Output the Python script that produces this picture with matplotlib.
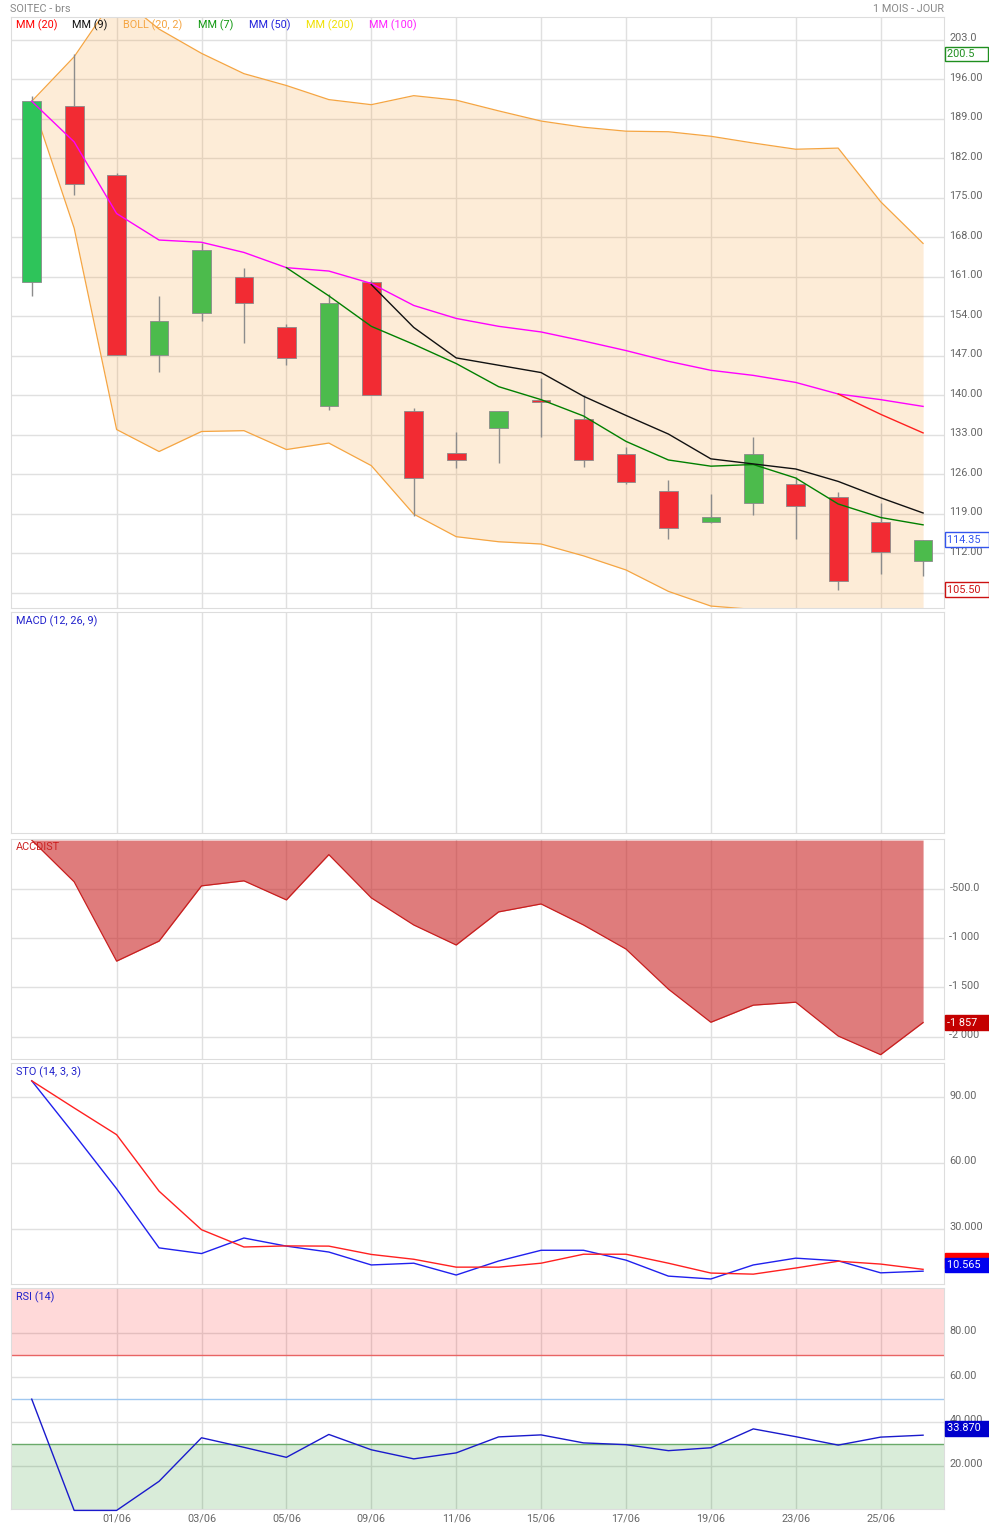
import numpy as np
import matplotlib
matplotlib.use("Agg")
import matplotlib.pyplot as plt
import matplotlib.transforms as mtransforms

plt.rcParams['font.family'] = ['Roboto', 'DejaVu Sans']

# ---- data ----
dates = ["28/05", "29/05", "01/06", "02/06", "03/06", "04/06", "05/06", "08/06",
         "09/06", "10/06", "11/06", "12/06", "15/06", "16/06", "17/06", "18/06",
         "19/06", "22/06", "23/06", "24/06", "25/06", "26/06"]

opens = [160.0, 191.2, 179.0, 147.2, 154.5, 161.0, 152.0, 138.1, 160.0, 137.2, 129.8,
         134.1, 139.1, 135.8, 129.6, 123.0, 117.5, 120.8, 124.3, 121.95, 117.5, 110.5]
highs = [193.0, 200.5, 179.3, 157.5, 166.9, 162.5, 152.6, 158.0, 160.4, 137.8, 133.4,
         137.2, 143.0, 140.1, 130.8, 125.0, 122.4, 132.5, 125.4, 122.9, 120.9, 114.35]
lows = [157.6, 175.5, 147.2, 144.1, 153.1, 149.2, 145.3, 137.4, 140.1, 118.5, 127.0,
        127.9, 132.5, 127.2, 124.2, 114.4, 117.3, 118.7, 114.4, 105.5, 108.2, 108.0]
closes = [192.1, 177.5, 147.2, 153.1, 165.7, 156.4, 146.6, 156.4, 140.1, 125.3, 128.5,
          137.2, 138.7, 128.5, 124.6, 116.45, 118.45, 129.5, 120.3, 107.1, 112.1, 114.35]

boll_upper = [192.1, 200.0, 211.0, 204.9, 200.6, 197.0, 194.9, 192.4, 191.5, 193.1, 192.3,
              190.4, 188.6, 187.5, 186.8, 186.7, 185.9, 184.7, 183.6, 183.8, 174.3, 166.9]
boll_lower = [192.1, 169.6, 133.9, 130.0, 133.55, 133.7, 130.35, 131.5, 127.5, 118.9, 114.9,
              114.0, 113.6, 111.5, 109.0, 105.2, 102.6, 102.0, 101.2, 99.5, 97.5, 96.5]

nan = np.nan
mm7 = [nan, nan, nan, nan, nan, nan, 162.6, 157.6, 152.2, 149.0, 145.6, 141.5, 139.2,
       136.3, 131.8, 128.5, 127.4, 127.7, 125.3, 120.7, 118.3, 117.0]
mm9 = [nan, nan, nan, nan, nan, nan, nan, nan, 159.6, 152.0, 146.6, 145.3, 144.0, 139.8,
       136.4, 133.1, 128.7, 127.8, 126.9, 124.7, 121.8, 119.1]
mm20 = [nan] * 19 + [140.2, 136.6, 133.3]
mm100 = [192.1, 184.9, 172.2, 167.5, 167.1, 165.3, 162.6, 162.0, 159.8, 155.9, 153.6,
         152.2, 151.2, 149.6, 147.9, 146.0, 144.4, 143.5, 142.25, 140.2, 139.2, 138.0]

accdist = [0, -425, -1232, -1028, -466, -415, -609, -148, -588, -864, -1068, -731, -650,
           -864, -1109, -1517, -1854, -1680, -1650, -1994, -2184, -1857]

sto_k = [97.5, 73.1, 48.2, 21.2, 18.6, 25.7, 22.0, 19.3, 13.4, 14.2, 8.8, 15.2, 20.1,
         20.1, 15.6, 8.3, 7.0, 13.4, 16.5, 15.3, 9.8, 10.565]
sto_d = [97.5, 85.1, 72.9, 47.1, 29.5, 21.6, 22.1, 22.0, 18.2, 16.0, 12.4, 12.4, 14.2,
         18.3, 18.3, 14.2, 9.7, 9.2, 12.0, 15.1, 13.8, 11.4]

rsi = [50.1, 0.0, 0.0, 13.1, 32.7, 28.4, 23.9, 34.2, 27.3, 23.2, 25.9, 33.1, 34.0, 30.4,
       29.6, 26.9, 28.2, 36.7, 33.2, 29.4, 33.0, 33.87]

main_ticks = [105, 112, 119, 126, 133, 140, 147, 154, 161, 168, 175, 182, 189, 196, 203]
main_labels = [""] + ["%.2f" % v for v in main_ticks[1:-1]] + ["203.0"]
acc_ticks = [-2000, -1500, -1000, -500]
acc_labels = ["-2 000", "-1 500", "-1 000", "-500.0"]
sto_ticks = [30, 60, 90]
sto_labels = ["30.000", "60.00", "90.00"]
rsi_ticks = [20, 40, 60, 80]
rsi_labels = ["20.000", "40.000", "60.00", "80.00"]

# ---- figure ----
W, H = 989, 1530
fig = plt.figure(figsize=(W / 100, H / 100), dpi=100)
LEFT, RIGHT = 10.5, 944.3


def panel(top, bottom):
    return fig.add_axes([LEFT / W, 1 - bottom / H, (RIGHT - LEFT) / W, (bottom - top) / H])


ax_main = panel(16.7, 608.3)
ax_macd = panel(612.3, 833.3)
ax_acc = panel(838.7, 1059.3)
ax_sto = panel(1063.3, 1284.0)
ax_rsi = panel(1288.3, 1509.3)
axes = [ax_main, ax_macd, ax_acc, ax_sto, ax_rsi]

x = np.arange(len(dates))
TXT = '#666666'
FS = 7.8

for ax in axes:
    ax.set_xlim(-0.5, len(dates) - 0.5)
    ax.set_xticks(x[2::2])
    ax.grid(True, color='#e0e0e0', lw=1)
    ax.set_axisbelow(True)
    ax.yaxis.tick_right()
    ax.tick_params(length=0, labelsize=FS, labelcolor=TXT, pad=3.6)
    ax.tick_params(axis='x', labelbottom=False)
    for s in ax.spines.values():
        s.set_color('#dddddd')

# main price panel
ax_main.set_ylim(102.2, 207.1)
ax_main.set_yticks(main_ticks)
ax_main.set_yticklabels(main_labels)
ax_main.fill_between(x, boll_lower, boll_upper, color='#f9a13a', alpha=0.2, lw=0, zorder=1)
ax_main.plot(x, boll_upper, color='#f5a542', lw=0.9, zorder=2)
ax_main.plot(x, boll_lower, color='#f5a542', lw=0.9, zorder=2)

o = np.array(opens)
c = np.array(closes)
cols = ['#4cbb4c' if cc >= oo else '#f22b33' for oo, cc in zip(o, c)]
cols[0] = '#2ec45a'
ax_main.vlines(x, lows, highs, color='#8c8c8c', lw=1, zorder=3)
ax_main.bar(x, np.abs(c - o), bottom=np.minimum(o, c), width=0.44, color=cols,
            edgecolor='#8a8a8a', lw=0.6, zorder=4)

ax_main.plot(x, mm100, color='#ff00ff', lw=1, zorder=5)
ax_main.plot(x, mm7, color='#008000', lw=1, zorder=5)
ax_main.plot(x, mm9, color='#111111', lw=1, zorder=5)
ax_main.plot(x, mm20, color='#ff2020', lw=1, zorder=5)

legend = [("MM (20)", '#ff0000', 15.7), ("MM (9)", '#111111', 72.3),
          ("BOLL (20, 2)", '#f5a542', 123.3), ("MM (7)", '#119911', 198.0),
          ("MM (50)", '#2222dd', 249.3), ("MM (200)", '#f0e000', 306.0),
          ("MM (100)", '#ff22ff', 369.3)]
for name, col, px in legend:
    fig.text(px / W, 1 - 25 / H, name, color=col, fontsize=FS, va='center', ha='left')

fig.text(10 / W, 1 - 9 / H, "SOITEC - brs", color='#888888', fontsize=FS, va='center')
fig.text(944 / W, 1 - 9 / H, "1 MOIS - JOUR", color='#888888', fontsize=FS, va='center', ha='right')


def value_box(ax, val, text, fg, bg, ec, dy=0):
    ax.annotate(text, xy=(1, val), xycoords=('axes fraction', 'data'),
                xytext=(2.2, dy), textcoords='offset points', ha='left', va='center',
                fontsize=FS, color=fg, annotation_clip=False, zorder=10,
                bbox=dict(boxstyle='square,pad=0.22', fc=bg, ec=ec, lw=1))


value_box(ax_main, max(highs), "200.5    ", '#1f8f1f', 'white', '#1f8f1f')
value_box(ax_main, closes[-1], "114.35  ", '#3355ee', 'white', '#3355ee')
value_box(ax_main, min(lows), "105.50  ", '#cc1111', 'white', '#cc1111')

# MACD (empty)
ax_macd.set_yticks([])
ax_macd.grid(False, axis='y')
fig.text(15.7 / W, 1 - 621 / H, "MACD (12, 26, 9)", color='#2222cc', fontsize=FS, va='center')

# ACCDIST
ax_acc.set_ylim(-2231, 14)
ax_acc.set_yticks(acc_ticks)
ax_acc.set_yticklabels(acc_labels)
ax_acc.fill_between(x, accdist, 0, color='#c81e1e', alpha=0.58, lw=0, zorder=1)
ax_acc.plot(x, accdist, color='#c81e1e', lw=0.9, zorder=2)
fig.text(15.7 / W, 1 - 847 / H, "ACCDIST", color='#cc2222', fontsize=FS, va='center')
value_box(ax_acc, accdist[-1], "-1 857    ", 'white', '#c40000', '#c40000')

# STO
ax_sto.set_ylim(4.7, 105.5)
ax_sto.set_yticks(sto_ticks)
ax_sto.set_yticklabels(sto_labels)
ax_sto.plot(x, sto_k, color='#2020ee', lw=1, zorder=3)
ax_sto.plot(x, sto_d, color='#ff2020', lw=1, zorder=3)
fig.text(15.7 / W, 1 - 1072 / H, "STO (14, 3, 3)", color='#2222cc', fontsize=FS, va='center')
# red %D label sits mostly hidden behind the blue %K label
value_box(ax_sto, sto_d[-1], "              ", 'white', '#ff0000', '#ff0000', dy=6.5)
value_box(ax_sto, sto_k[-1], "10.565    ", 'white', '#0000ee', '#0000ee', dy=4.5)

# RSI
ax_rsi.set_ylim(0.5, 100)
ax_rsi.set_yticks(rsi_ticks)
ax_rsi.set_yticklabels(rsi_labels)
ax_rsi.axhspan(70, 100, color='#ff0000', alpha=0.15, lw=0, zorder=1)
ax_rsi.axhspan(0, 30, color='#008000', alpha=0.15, lw=0, zorder=1)
ax_rsi.axhline(70, color='#e86464', lw=1, zorder=2)
ax_rsi.axhline(50, color='#a0c8f0', lw=1, zorder=2)
ax_rsi.axhline(30, color='#6aaa6a', lw=1, zorder=2)
ax_rsi.plot(x, rsi, color='#1a1acc', lw=1, zorder=3, clip_on=False)
fig.text(15.7 / W, 1 - 1297 / H, "RSI (14)", color='#2222cc', fontsize=FS, va='center')
value_box(ax_rsi, rsi[-1], "33.870  ", 'white', '#0000cc', '#0000cc', dy=5)

ax_rsi.tick_params(axis='x', labelbottom=True, pad=3)
ax_rsi.set_xticklabels(dates[2::2])

# tick labels sit a couple of pixels above their grid lines
lift = mtransforms.ScaledTranslation(0, 2.5 / 100, fig.dpi_scale_trans)
for ax in axes:
    for lbl in ax.get_yticklabels():
        lbl.set_transform(lbl.get_transform() + lift)

fig.savefig("out.png", dpi=100)
